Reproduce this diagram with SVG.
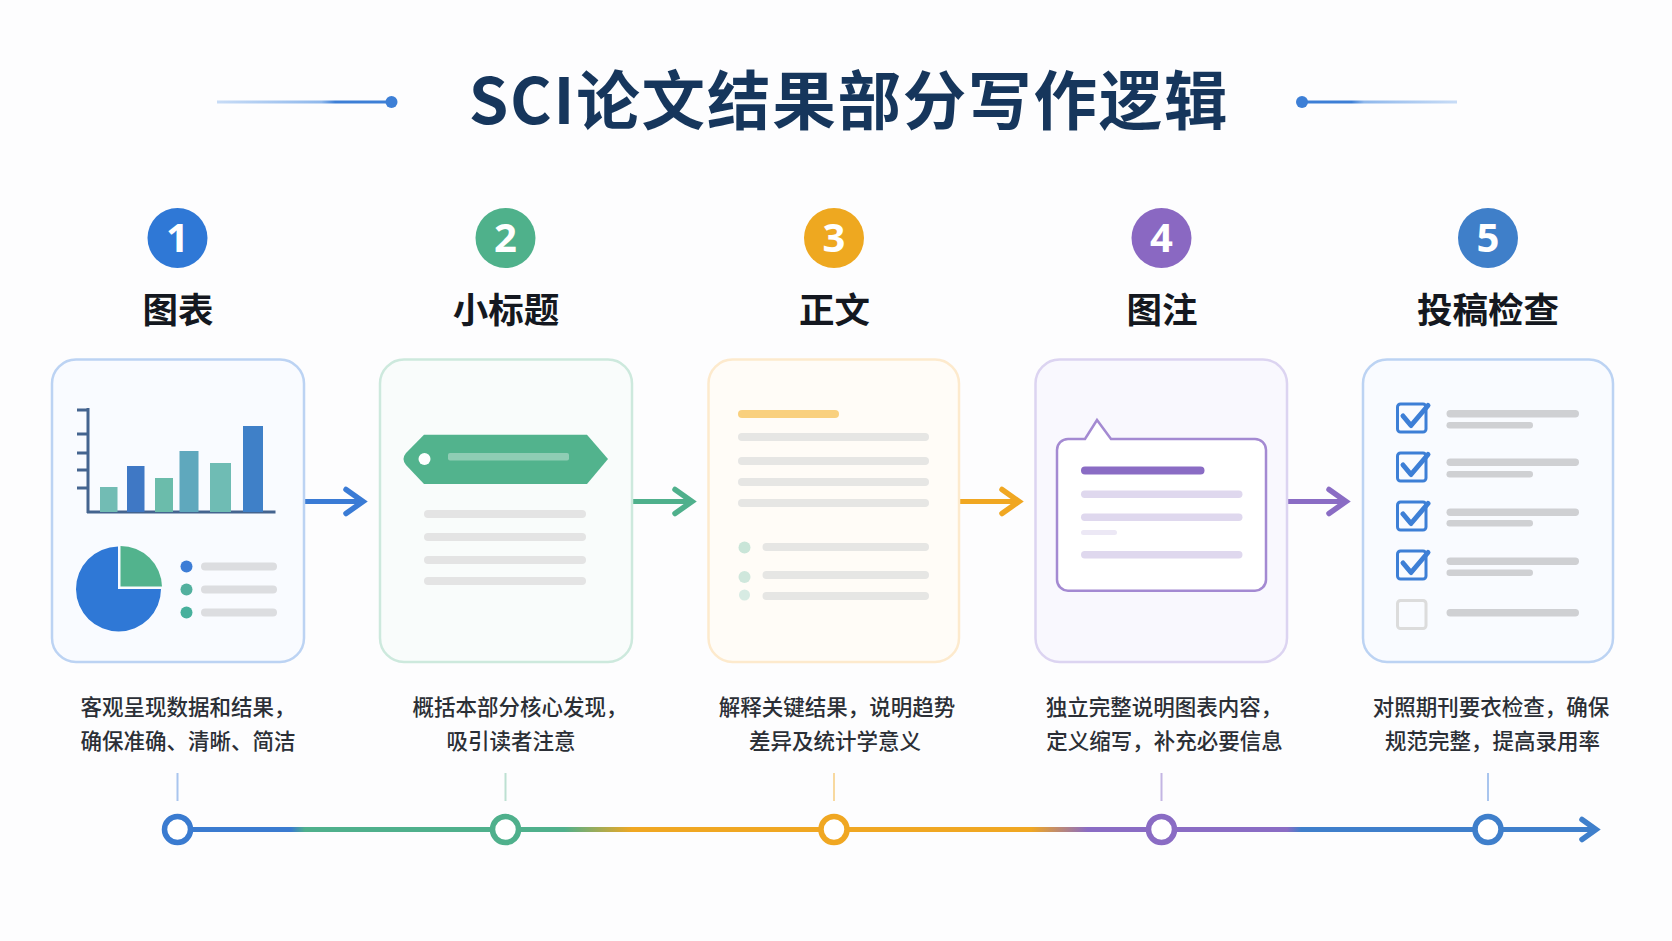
<svg xmlns="http://www.w3.org/2000/svg" width="1672" height="941" viewBox="0 0 1672 941">
<style>
text{font-family:"Noto Sans CJK SC","Noto Sans",sans-serif;text-anchor:middle}
.title{font-size:63.500px;font-weight:700;fill:#16365c;letter-spacing:1.800px}
.num{font-family:"Noto Sans","Noto Sans CJK SC",sans-serif;font-size:40px;font-weight:700;fill:#fff}
.step{font-size:35.500px;font-weight:700;fill:#141820}
.desc{font-size:21.500px;font-weight:500;fill:#2b2f36}
.card{stroke-width:2.500}
.g1{fill:#dcdde0}.g2{fill:#e4e4e4}.g3{fill:#e6e6e4}.g4{fill:#dfd8ee}.g5{fill:#cfd0d3}
.g1,.g2,.g3,.g4,.g5,.soft{filter:url(#soft)}
.box{fill:none;stroke:#3d7fd6;stroke-width:3}
.chk{fill:none;stroke:#3d7fd6;stroke-width:5;stroke-linecap:round;stroke-linejoin:round}
.conn{fill:none;stroke-width:5}
.tick{stroke-width:2}
.ring{fill:#fff;stroke-width:5.500}
.head{fill:none;stroke-width:5.500;stroke-linecap:round}
</style>
<defs>
<filter id="soft" x="-10%" y="-60%" width="120%" height="220%"><feGaussianBlur stdDeviation="0.600"/></filter>
<marker id="aBlue" markerUnits="userSpaceOnUse" markerWidth="30" markerHeight="36" viewBox="-24 -18 30 36" refX="0" refY="0" orient="auto"><path class="head" stroke="#3a7bd5" d="M-17,-12L0,0L-17,12"/></marker>
<marker id="aGreen" markerUnits="userSpaceOnUse" markerWidth="30" markerHeight="36" viewBox="-24 -18 30 36" refX="0" refY="0" orient="auto"><path class="head" stroke="#4fb08c" d="M-17,-12L0,0L-17,12"/></marker>
<marker id="aOrange" markerUnits="userSpaceOnUse" markerWidth="30" markerHeight="36" viewBox="-24 -18 30 36" refX="0" refY="0" orient="auto"><path class="head" stroke="#f0a722" d="M-17,-12L0,0L-17,12"/></marker>
<marker id="aPurple" markerUnits="userSpaceOnUse" markerWidth="30" markerHeight="36" viewBox="-24 -18 30 36" refX="0" refY="0" orient="auto"><path class="head" stroke="#8a6cc4" d="M-17,-12L0,0L-17,12"/></marker>
<marker id="aEnd" markerUnits="userSpaceOnUse" markerWidth="30" markerHeight="36" viewBox="-24 -18 30 36" refX="0" refY="0" orient="auto"><path class="head" stroke="#3f7fcb" d="M-14,-10L0,0L-14,10"/></marker>
<linearGradient id="tl" gradientUnits="userSpaceOnUse" x1="177" y1="0" x2="1600" y2="0">
<stop offset="0.08" stop-color="#3a7bd0"/><stop offset="0.09" stop-color="#4fb08c"/><stop offset="0.272" stop-color="#4fb08c"/><stop offset="0.32" stop-color="#f0a722"/><stop offset="0.6" stop-color="#f0a722"/><stop offset="0.64" stop-color="#8a6cc4"/><stop offset="0.78" stop-color="#8a6cc4"/><stop offset="0.79" stop-color="#3f7fcb"/>
</linearGradient>
<linearGradient id="hl" gradientUnits="userSpaceOnUse" x1="217" y1="0" x2="391" y2="0"><stop offset="0" stop-color="#c8dcf6"/><stop offset="0.6" stop-color="#8fb8ec"/><stop offset="0.68" stop-color="#3d7fd6"/></linearGradient>
<linearGradient id="hr" gradientUnits="userSpaceOnUse" x1="1457" y1="0" x2="1302" y2="0"><stop offset="0" stop-color="#c8dcf6"/><stop offset="0.6" stop-color="#8fb8ec"/><stop offset="0.68" stop-color="#3d7fd6"/></linearGradient>
</defs>
<rect width="1672" height="941" fill="#fdfdfe"/>

<g id="title">
<path d="M217 102H391" stroke="url(#hl)" stroke-width="3" fill="none"/><circle cx="391.500" cy="102" r="6" fill="#3d7fd6"/>
<path d="M1302 102H1457" stroke="url(#hr)" stroke-width="3" fill="none"/><circle cx="1302" cy="102" r="6" fill="#3d7fd6"/>
<text class="title" x="849" y="124">SCI论文结果部分写作逻辑</text>
</g>

<g id="connectors">
<path class="conn" stroke="#3a7bd5" d="M304 501.500H363" marker-end="url(#aBlue)"/>
<path class="conn" stroke="#4fb08c" d="M633 501.500H692" marker-end="url(#aGreen)"/>
<path class="conn" stroke="#f0a722" d="M960 501.500H1019" marker-end="url(#aOrange)"/>
<path class="conn" stroke="#8a6cc4" d="M1288 501.500H1346" marker-end="url(#aPurple)"/>
<path class="conn" stroke="url(#tl)" d="M177 829.500H1596" marker-end="url(#aEnd)"/>
<path class="tick" stroke="#a9c5ee" d="M177.500 773V801"/>
<path class="tick" stroke="#bde0d2" d="M505.500 773V801"/>
<path class="tick" stroke="#f8d9a0" d="M834 773V801"/>
<path class="tick" stroke="#c3b5e3" d="M1161.500 773V801"/>
<path class="tick" stroke="#a9c5ee" d="M1488 773V801"/>
</g>

<g id="node1">
<circle cx="177.500" cy="238" r="30" fill="#2f78d6"/><text class="num" x="177.500" y="252">1</text>
<text class="step" x="178" y="323">图表</text>
<rect class="card" x="52" y="359.500" width="252" height="302.500" rx="24" fill="#f9fbff" stroke="#bcd3f3"/>
<g fill="none" stroke="#44648f" stroke-width="3"><path d="M88 408V513M87 512H275.500"/><path d="M77 410H88M77 434H88M77 453H88M77 470H88M77 488H88"/></g>
<rect x="100" y="487" width="17.500" height="25" fill="#72bcb4"/>
<rect x="127" y="466" width="17.500" height="46" fill="#3f78c5"/>
<rect x="155" y="478" width="18" height="34" fill="#6bbcab"/>
<rect x="179.500" y="451" width="19" height="61" fill="#5fa8bd"/>
<rect x="210" y="463" width="21" height="49" fill="#6fbcb4"/>
<rect x="243" y="426" width="20" height="86" fill="#3f80c8"/>
<path d="M118 589V546.500A42.500 42.500 0 1 0 161 589Z" fill="#2f78d6"/>
<path d="M120.500 586.500V546A41.500 41.500 0 0 1 162 586.500Z" fill="#52b38d"/>
<circle cx="186.500" cy="566.500" r="6" fill="#3d7dd6"/><circle cx="186.500" cy="589.500" r="6" fill="#52b09e"/><circle cx="186.500" cy="612.500" r="6" fill="#47b09c"/>
<rect class="g1" x="201" y="562.500" width="76" height="8" rx="4"/><rect class="g1" x="201" y="585.500" width="76" height="8" rx="4"/><rect class="g1" x="201" y="608.500" width="76" height="8" rx="4"/>
<text class="desc"><tspan x="188" y="715">客观呈现数据和结果，</tspan><tspan x="188" y="748.500">确保准确、清晰、简洁</tspan></text>
</g>

<g id="node2">
<circle cx="505.500" cy="238" r="30" fill="#4fb18b"/><text class="num" x="505.500" y="252">2</text>
<text class="step" x="506" y="323">小标题</text>
<rect class="card" x="380" y="359.500" width="252" height="302.500" rx="24" fill="#f9fcfb" stroke="#cde9dd"/>
<path d="M424 434.700H587L608 459 587 484H424L406 465Q401 459 406 453Z" fill="#52b38d"/>
<circle cx="424.500" cy="459" r="6" fill="#fff"/>
<rect class="soft" x="448" y="453" width="121" height="7.500" rx="2" fill="#8fcdb4"/>
<rect class="g2" x="424" y="510" width="162" height="8" rx="4"/><rect class="g2" x="424" y="533" width="162" height="8" rx="4"/><rect class="g2" x="424" y="556" width="162" height="8" rx="4"/><rect class="g2" x="424" y="577" width="162" height="8" rx="4"/>
<text class="desc"><tspan x="520" y="715">概括本部分核心发现，</tspan><tspan x="511" y="748.500">吸引读者注意</tspan></text>
</g>

<g id="node3">
<circle cx="834" cy="238" r="30" fill="#eea820"/><text class="num" x="834" y="252">3</text>
<text class="step" x="834.500" y="323">正文</text>
<rect class="card" x="708.500" y="359.500" width="250.500" height="302.500" rx="24" fill="#fffcf7" stroke="#fdeacd"/>
<rect x="738" y="410" width="101" height="8" rx="4" fill="#f9d07e"/>
<rect class="g3" x="738" y="433" width="191" height="8" rx="4"/><rect class="g3" x="738" y="457" width="191" height="8" rx="4"/><rect class="g3" x="738" y="478" width="191" height="8" rx="4"/><rect class="g3" x="738" y="499" width="191" height="8" rx="4"/>
<circle cx="744.500" cy="547.500" r="6" fill="#c9e5d8"/><circle cx="744.500" cy="577" r="6" fill="#cfe7dc"/><circle cx="744.500" cy="595" r="5.500" fill="#d7ebe3"/>
<rect class="g3" x="762.500" y="543" width="166.500" height="8" rx="4"/><rect class="g3" x="762.500" y="571" width="166.500" height="8" rx="4"/><rect class="g3" x="762.500" y="592" width="166.500" height="8" rx="4"/>
<text class="desc"><tspan x="837" y="715">解释关键结果，说明趋势</tspan><tspan x="835" y="748.500">差异及统计学意义</tspan></text>
</g>

<g id="node4">
<circle cx="1161.500" cy="238" r="30" fill="#8a68c2"/><text class="num" x="1161.500" y="252">4</text>
<text class="step" x="1162" y="323">图注</text>
<rect class="card" x="1035.500" y="359.500" width="251.500" height="302.500" rx="24" fill="#f9f8fe" stroke="#dcd4f1"/>
<path d="M1068 439H1085L1097 420 1111 439H1255A11 11 0 0 1 1266 450V579.700A11 11 0 0 1 1255 590.700H1068A11 11 0 0 1 1057 579.700V450A11 11 0 0 1 1068 439Z" fill="#fff" stroke="#a48ad2" stroke-width="2.500"/>
<rect x="1081" y="466.500" width="123.500" height="8" rx="4" fill="#8a6cc4"/>
<rect class="g4" x="1081" y="490.500" width="161.500" height="7.500" rx="3.700"/><rect class="g4" x="1081" y="513.500" width="161.500" height="7.500" rx="3.700"/><rect class="soft" x="1081" y="530" width="36" height="5" rx="2.500" fill="#ece8f5"/><rect class="g4" x="1081" y="551" width="161.500" height="7.500" rx="3.700"/>
<text class="desc"><tspan x="1164" y="715">独立完整说明图表内容，</tspan><tspan x="1164.500" y="748.500">定义缩写，补充必要信息</tspan></text>
</g>

<g id="node5">
<circle cx="1488" cy="238" r="30" fill="#3f7fc9"/><text class="num" x="1488" y="252">5</text>
<text class="step" x="1488" y="323">投稿检查</text>
<rect class="card" x="1363" y="359.500" width="250" height="302.500" rx="24" fill="#f9fbff" stroke="#bcd3f3"/>
<rect class="box" x="1397.500" y="404" width="28.500" height="28" rx="3"/><path class="chk" d="M1403 416L1411 425.500 1428 405.500"/>
<rect class="box" x="1397.500" y="453" width="28.500" height="28" rx="3"/><path class="chk" d="M1403 465L1411 474.500 1428 454.500"/>
<rect class="box" x="1397.500" y="502" width="28.500" height="28" rx="3"/><path class="chk" d="M1403 514L1411 523.500 1428 503.500"/>
<rect class="box" x="1397.500" y="551" width="28.500" height="28" rx="3"/><path class="chk" d="M1403 563L1411 572.500 1428 552.500"/>
<rect class="box" x="1397.500" y="600.500" width="28.500" height="28" rx="3" style="stroke:#dcdcdc"/>
<rect class="g5" x="1446.500" y="410" width="132.500" height="7.500" rx="3.700"/><rect class="g5" x="1446.500" y="422" width="86.500" height="6.500" rx="3.200"/>
<rect class="g5" x="1446.500" y="458.500" width="132.500" height="7.500" rx="3.700"/><rect class="g5" x="1446.500" y="471" width="86.500" height="6.500" rx="3.200"/>
<rect class="g5" x="1446.500" y="508.500" width="132.500" height="7.500" rx="3.700"/><rect class="g5" x="1446.500" y="520" width="86.500" height="6.500" rx="3.200"/>
<rect class="g5" x="1446.500" y="557.500" width="132.500" height="7.500" rx="3.700"/><rect class="g5" x="1446.500" y="569.500" width="86.500" height="6.500" rx="3.200"/>
<rect class="g5" x="1446.500" y="609" width="132.500" height="7.500" rx="3.700"/>
<text class="desc"><tspan x="1491" y="715">对照期刊要衣检查，确保</tspan><tspan x="1492.500" y="748.500">规范完整，提高录用率</tspan></text>
</g>

<g id="timeline-nodes">
<circle class="ring" cx="177.500" cy="829.500" r="13" stroke="#3a7bd0"/>
<circle class="ring" cx="505.500" cy="829.500" r="13" stroke="#4fb08c"/>
<circle class="ring" cx="834" cy="829.500" r="13" stroke="#f0a722"/>
<circle class="ring" cx="1161.500" cy="829.500" r="13" stroke="#8a6cc4"/>
<circle class="ring" cx="1488" cy="829.500" r="13" stroke="#3f7fcb"/>
</g>
</svg>
